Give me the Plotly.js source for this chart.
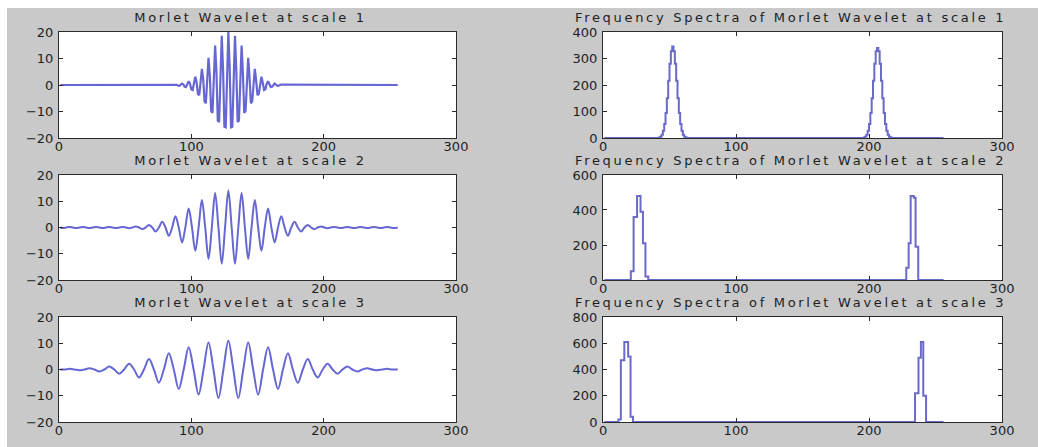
<!DOCTYPE html>
<html>
<head>
<meta charset="utf-8">
<script src="https://cdn.plot.ly/plotly-3.0.1.min.js"></script>
<style>
  html, body { margin: 0; padding: 0; background: #ffffff; width: 1038px; height: 447px; overflow: hidden; }
  #chart { position: absolute; left: 7px; top: 8px; width: 1031px; height: 439px; }
  #chart .annotation-text { letter-spacing: 2.7px; }
</style>
</head>
<body>
<div id="chart"></div>
<script>
// ---------- data ----------
const titles = [
  "Morlet Wavelet at scale 1", "Frequency Spectra of Morlet Wavelet at scale 1",
  "Morlet Wavelet at scale 2", "Frequency Spectra of Morlet Wavelet at scale 2",
  "Morlet Wavelet at scale 3", "Frequency Spectra of Morlet Wavelet at scale 3"
];
const xTicks = [0, 100, 200, 300];
const waveTicks = [-20, -10, 0, 10, 20];
const spec1Ticks = [0, 100, 200, 300, 400];
const spec2Ticks = [0, 200, 400, 600];
const spec3Ticks = [0, 200, 400, 600, 800];

// wavelet, scale 1 (sample index, value)
const t1 = [1,88,89,90,91,92,93,94,95,96,97,98,99,100,101,102,103,104,105,106,107,108,109,110,111,112,113,114,115,116,117,118,119,120,121,122,123,124,125,126,127,128,129,130,131,132,133,134,135,136,137,138,139,140,141,142,143,144,145,146,147,148,149,150,151,152,153,154,155,156,157,158,159,160,161,162,163,164,165,166,167,168,256];
const w1 = [0,0.17,0.07,-0.23,-0.28,0.13,0.53,0.20,-0.65,-0.78,0.36,1.39,0.51,-1.59,-1.87,0.84,3.15,1.12,-3.38,-3.87,1.67,6.13,2.12,-6.21,-6.88,2.90,10.28,3.46,-9.81,-10.57,4.32,14.88,4.86,-13.39,-14.0,5.56,18.57,5.90,-15.75,-15.99,6.16,20.0,6.16,-15.99,-15.75,5.90,18.57,5.56,-14.0,-13.39,4.86,14.88,4.32,-10.57,-9.81,3.46,10.28,2.90,-6.88,-6.21,2.12,6.13,1.67,-3.87,-3.38,1.12,3.15,0.84,-1.87,-1.59,0.51,1.39,0.36,-0.78,-0.65,0.20,0.53,0.13,-0.28,-0.23,0.07,0.17,0];

// wavelet, scale 2 (peaks, troughs and zero crossings)
const t2 = [1,3,5.5,8,10.5,13,15.5,18,20.5,23,25.5,28,30.5,33,35.5,38,40.5,43,45.5,48,50.5,53,55.5,58,60.5,63,65.5,68,70.5,73,75.5,78,80.5,83,85.5,88,90.5,93,95.5,98,100.5,103,105.5,108,110.5,113,115.5,118,120.5,123,125.5,128,130.5,133,135.5,138,140.5,143,145.5,148,150.5,153,155.5,158,160.5,163,165.5,168,170.5,173,175.5,178,180.5,183,185.5,188,190.5,193,195.5,198,200.5,203,205.5,208,210.5,213,215.5,218,220.5,223,225.5,228,230.5,233,235.5,238,240.5,243,245.5,248,250.5,253,256];
const w2 = [0,-0.2,0,0.2,0,-0.2,0,0.2,0,-0.2,0,0.2,0,-0.2,0,0.2,0,-0.2,0,0.2,0,-0.25,0,0.38,0,-0.62,0,0.98,0,-1.51,0,2.22,0,-3.15,0,4.32,0,-5.70,0,7.25,0,-8.88,0,10.49,0,-11.94,0,13.10,0,-13.85,0,14.1,0,-13.85,0,13.10,0,-11.94,0,10.49,0,-8.88,0,7.25,0,-5.70,0,4.32,0,-3.15,0,2.22,0,-1.51,0,0.98,0,-0.62,0,0.38,0,-0.25,0,0.2,0,-0.2,0,0.2,0,-0.2,0,0.2,0,-0.2,0,0.2,0,-0.2,0,0.2,0,-0.2,0];

// wavelet, scale 3 (peaks, troughs and zero crossings)
const t3 = [1,4.25,8,11.75,15.5,19.25,23,26.75,30.5,34.25,38,41.75,45.5,49.25,53,56.75,60.5,64.25,68,71.75,75.5,79.25,83,86.75,90.5,94.25,98,101.75,105.5,109.25,113,116.75,120.5,124.25,128,131.75,135.5,139.25,143,146.75,150.5,154.25,158,161.75,165.5,169.25,173,176.75,180.5,184.25,188,191.75,195.5,199.25,203,206.75,210.5,214.25,218,221.75,225.5,229.25,233,236.75,240.5,244.25,248,251.75,256];
const w3 = [0,0,0.25,0,-0.30,0,0.48,0,-0.74,0,1.11,0,-1.60,0,2.23,0,-3.03,0,3.97,0,-5.04,0,6.20,0,-7.38,0,8.52,0,-9.53,0,10.32,0,-10.83,0,11.0,0,-10.83,0,10.32,0,-9.53,0,8.52,0,-7.38,0,6.20,0,-5.04,0,3.97,0,-3.03,0,2.23,0,-1.60,0,1.11,0,-0.74,0,0.48,0,-0.30,0,0.25,0,0];

// spectra magnitudes (frequency index, value)
const f1x = [1,42,43,44,45,46,47,48,49,50,51,52,53,54,55,56,57,58,59,60,61,62,63,196,197,198,199,200,201,202,203,204,205,206,207,208,209,210,211,212,213,214,215,216,217,256];
const f1y = [0,2,5,12,27,53,94,150,216,280,327,345,327,280,216,150,94,53,27,12,5,2,0,2,5,12,27,53,94,150,216,280,327,340,327,280,216,150,94,53,27,12,5,2,0,0];
const f2x = [1,20.9,23,25.6,28.2,30,31.9,34,228,229.8,231.3,233.7,235,237,256];
const f2y = [0,50,360,480,390,210,20,0,70,210,480,470,190,0,0];
const f3x = [1,11.6,13.4,16,18.9,20.7,22.5,234.6,237.2,239,240.8,242.9,256];
const f3y = [0,20,470,610,500,40,0,220,490,610,200,0,0];

// ---------- layout ----------
const colX = [[0.0504, 0.4355], [0.5781, 0.9651]];
const rowY = [[0.7039, 0.9453], [0.3804, 0.6196], [0.0569, 0.2961]];
const waveColor = '#6767d4';
const specColor = '#6a6ac8';
const axisColor = '#2b2b2b';
const tickFont = { family: 'DejaVu Sans, sans-serif', size: 13, color: '#1e1e1e' };

function xa(domain, anchor) {
  return { domain: domain, anchor: anchor, range: [0, 300], tickvals: xTicks,
    ticks: 'inside', ticklen: 4, tickcolor: axisColor, showline: true, linecolor: axisColor,
    linewidth: 1, mirror: 'ticks', showgrid: false, zeroline: false, tickfont: tickFont,
    ticklabelstandoff: -4, fixedrange: true };
}
function ya(domain, anchor, range, vals) {
  return { domain: domain, anchor: anchor, range: range, tickvals: vals,
    ticks: 'inside', ticklen: 4, tickcolor: axisColor, showline: true, linecolor: axisColor,
    linewidth: 1, mirror: 'ticks', showgrid: false, zeroline: false, tickfont: tickFont,
    ticklabelstandoff: 2, fixedrange: true };
}

const traces = [
  { x: t1, y: w1, xaxis: 'x', yaxis: 'y', mode: 'lines', line: { color: waveColor, width: 2.2 } },
  { x: f1x, y: f1y, xaxis: 'x2', yaxis: 'y2', mode: 'lines', line: { color: specColor, width: 2, shape: 'hv' } },
  { x: t2, y: w2, xaxis: 'x3', yaxis: 'y3', mode: 'lines', line: { color: waveColor, width: 2, shape: 'spline' } },
  { x: f2x, y: f2y, xaxis: 'x4', yaxis: 'y4', mode: 'lines', line: { color: specColor, width: 2, shape: 'hv' } },
  { x: t3, y: w3, xaxis: 'x5', yaxis: 'y5', mode: 'lines', line: { color: waveColor, width: 2, shape: 'spline' } },
  { x: f3x, y: f3y, xaxis: 'x6', yaxis: 'y6', mode: 'lines', line: { color: specColor, width: 2, shape: 'hv' } }
];

const titleX = [0.2357, 0.7604];
const annotations = titles.map(function (txt, i) {
  const col = i % 2, row = Math.floor(i / 2);
  return { text: txt, xref: 'paper', yref: 'paper', x: titleX[col], y: rowY[row][1],
    xanchor: 'center', yanchor: 'bottom', yshift: 6, showarrow: false, borderpad: 0,
    font: { family: 'DejaVu Sans, sans-serif', size: 13, color: '#1e1e1e' } };
});

const layout = {
  width: 1031, height: 439,
  margin: { l: 0, r: 0, t: 0, b: 0 },
  paper_bgcolor: '#c9c9c9', plot_bgcolor: '#ffffff',
  showlegend: false,
  xaxis: xa(colX[0], 'y'), yaxis: ya(rowY[0], 'x', [-20, 20], waveTicks),
  xaxis2: xa(colX[1], 'y2'), yaxis2: ya(rowY[0], 'x2', [0, 400], spec1Ticks),
  xaxis3: xa(colX[0], 'y3'), yaxis3: ya(rowY[1], 'x3', [-20, 20], waveTicks),
  xaxis4: xa(colX[1], 'y4'), yaxis4: ya(rowY[1], 'x4', [0, 600], spec2Ticks),
  xaxis5: xa(colX[0], 'y5'), yaxis5: ya(rowY[2], 'x5', [-20, 20], waveTicks),
  xaxis6: xa(colX[1], 'y6'), yaxis6: ya(rowY[2], 'x6', [0, 800], spec3Ticks),
  annotations: annotations
};

Plotly.newPlot('chart', traces, layout, { staticPlot: true, displayModeBar: false });
</script>
</body>
</html>
